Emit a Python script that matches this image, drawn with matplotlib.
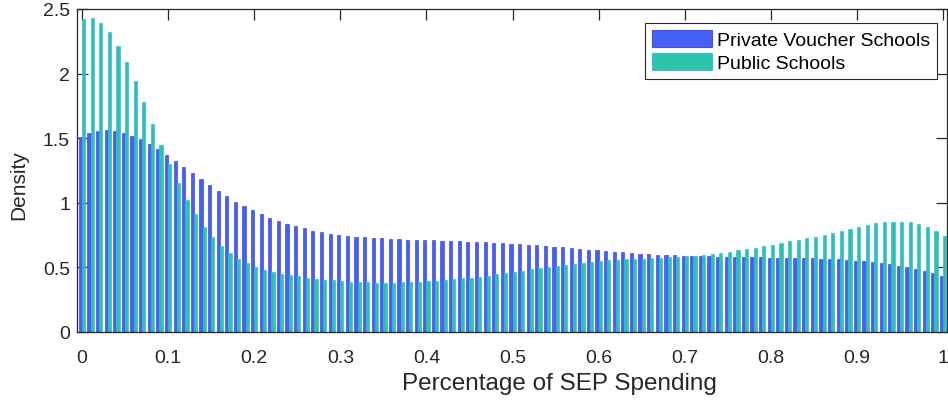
import numpy as np
import matplotlib
matplotlib.use("Agg")
import matplotlib.pyplot as plt

plt.rcParams['font.family'] = ['Liberation Sans', 'DejaVu Sans']

# Bin centres (share of SEP spending)
bins = np.linspace(0.0, 1.0, 101)

private_voucher = [
    1.507, 1.540, 1.556, 1.563, 1.556, 1.543, 1.520, 1.494, 1.457, 1.416,
    1.372, 1.326, 1.280, 1.230, 1.184, 1.138, 1.094, 1.050, 1.010, 0.975,
    0.944, 0.910, 0.882, 0.859, 0.836, 0.818, 0.802, 0.784, 0.771, 0.761,
    0.751, 0.743, 0.738, 0.733, 0.728, 0.725, 0.720, 0.717, 0.715, 0.712,
    0.710, 0.710, 0.707, 0.704, 0.702, 0.699, 0.697, 0.697, 0.691, 0.686,
    0.684, 0.681, 0.676, 0.671, 0.666, 0.660, 0.655, 0.648, 0.640, 0.635,
    0.632, 0.627, 0.619, 0.617, 0.609, 0.606, 0.601, 0.598, 0.593, 0.593,
    0.588, 0.588, 0.586, 0.586, 0.583, 0.583, 0.580, 0.580, 0.578, 0.578,
    0.575, 0.574, 0.573, 0.570, 0.570, 0.570, 0.567, 0.565, 0.562, 0.557,
    0.552, 0.547, 0.539, 0.532, 0.524, 0.513, 0.501, 0.488, 0.472, 0.454,
    0.433,
]

public = [
    2.420, 2.430, 2.390, 2.320, 2.210, 2.090, 1.940, 1.780, 1.610, 1.450,
    1.300, 1.155, 1.020, 0.910, 0.815, 0.733, 0.667, 0.612, 0.567, 0.534,
    0.506, 0.482, 0.464, 0.451, 0.441, 0.431, 0.420, 0.413, 0.405, 0.400,
    0.395, 0.390, 0.387, 0.385, 0.382, 0.382, 0.382, 0.385, 0.387, 0.390,
    0.395, 0.397, 0.402, 0.410, 0.415, 0.420, 0.428, 0.436, 0.446, 0.454,
    0.464, 0.472, 0.485, 0.495, 0.503, 0.513, 0.521, 0.529, 0.536, 0.544,
    0.550, 0.557, 0.560, 0.565, 0.565, 0.567, 0.573, 0.573, 0.578, 0.583,
    0.586, 0.591, 0.596, 0.604, 0.611, 0.622, 0.632, 0.640, 0.650, 0.663,
    0.675, 0.688, 0.702, 0.712, 0.725, 0.738, 0.753, 0.769, 0.784, 0.800,
    0.813, 0.828, 0.841, 0.849, 0.854, 0.854, 0.849, 0.834, 0.810, 0.782,
    0.745,
]

labels = ["Private Voucher Schools", "Public Schools"]
xticks = [0, 0.1, 0.2, 0.3, 0.4, 0.5, 0.6, 0.7, 0.8, 0.9, 1]
xticklabels = ["0", "0.1", "0.2", "0.3", "0.4", "0.5", "0.6", "0.7", "0.8", "0.9", "1"]
yticks = [0, 0.5, 1, 1.5, 2, 2.5]
yticklabels = ["0", "0.5", "1", "1.5", "2", "2.5"]

fig = plt.figure(figsize=(9.48, 4.02), dpi=100)
ax = fig.add_axes([77 / 948, (402 - 333) / 402, (946.5 - 77) / 948, 323 / 402])

w = 0.0037
ax.bar(bins - w / 2, private_voucher, width=w, color='#4262f4', edgecolor='#4a4ae0',
       linewidth=0.5, label=labels[0], zorder=2)
ax.bar(bins + w / 2, public, width=w, color='#2cc4a8', edgecolor='#3cb6e6',
       linewidth=0.5, label=labels[1], zorder=3)

ax.set_xlim(-0.0058, 1.004)
ax.set_ylim(0, 2.5)
ax.set_xticks(xticks)
ax.set_xticklabels(xticklabels)
ax.set_yticks(yticks)
ax.set_yticklabels(yticklabels)

axis_col = '#262626'
for s in ax.spines.values():
    s.set_color(axis_col)
    s.set_linewidth(0.9)
    s.set_zorder(5)
ax.tick_params(direction='in', length=8, width=0.9, color=axis_col,
               labelcolor=axis_col, labelsize=14, top=True, right=True)
ax.tick_params(axis='x', pad=12)
ax.tick_params(axis='y', pad=5)

ax.set_xlabel("Percentage of SEP Spending", fontsize=17.5, color=axis_col)
ax.set_ylabel("Density", fontsize=15, color=axis_col)
ax.xaxis.set_label_coords((559 - 77) / 869.5, (333 - 373) / 323)
ax.yaxis.set_label_coords((28 - 77) / 869.5, (333 - 185) / 323)

leg = ax.legend(loc='upper right', bbox_to_anchor=((937 - 77) / 869.5, (333 - 24) / 323),
                fontsize=14, frameon=True, fancybox=False, edgecolor='#262626',
                framealpha=1, handlelength=3.1, handleheight=1.0, handletextpad=0.25,
                borderpad=0.35, labelspacing=0.2, borderaxespad=0.0)
leg.get_frame().set_linewidth(0.8)
for h in leg.legend_handles:
    h.set_linewidth(0.8)

fig.savefig("out.png", dpi=100)
